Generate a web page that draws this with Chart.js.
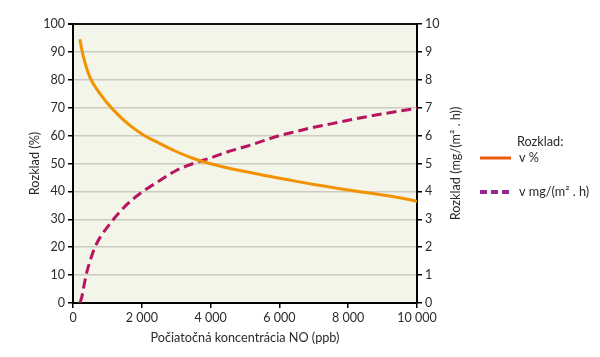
<!DOCTYPE html>
<html>
<head>
<meta charset="utf-8">
<script src="https://cdn.jsdelivr.net/npm/chart.js@4/dist/chart.umd.min.js"></script>
<style>
  html, body { margin: 0; padding: 0; background: #ffffff; }
  #wrap { width: 600px; height: 357px; position: relative; }
</style>
</head>
<body>
<div id="wrap"><canvas id="c" width="600" height="357"></canvas></div>
<script>
// ---- data ----
const concentration = [200, 250, 300, 400, 500, 600, 700, 800, 1000, 1300, 1600, 2000, 2500, 3000, 3500, 4000, 4500, 5000, 5500, 6000, 6500, 7000, 7500, 8000, 8500, 9000, 9500, 10000];
const rozkladPct    = [94.5, 91.2, 88.4, 84, 80.7, 78.4, 76.5, 74.8, 71.6, 67.6, 64.2, 60.6, 57.3, 54.3, 51.8, 49.9, 48.4, 47.1, 45.9, 44.7, 43.6, 42.5, 41.5, 40.5, 39.6, 38.7, 37.7, 36.5];
const rozkladMg     = [0, 0.18, 0.5, 1.1, 1.52, 1.88, 2.16, 2.38, 2.72, 3.18, 3.57, 3.97, 4.37, 4.75, 5.0, 5.2, 5.42, 5.6, 5.8, 6.0, 6.15, 6.3, 6.42, 6.55, 6.67, 6.78, 6.88, 6.98];
const xTickLabels   = ['0', '2 000', '4 000', '6 000', '8 000', '10 000'];
const legendTitle   = 'Rozklad:';
const seriesLabels  = ['v %', 'v mg/(m\u00B2 . h)'];
const xTitle = 'Počiatočná koncentrácia NO (ppb)';
const yLeftTitle = 'Rozklad (%)';
const yRightTitle = 'Rozklad (mg/(m\u00B2 . h))';

const FONT = 'Lato, "Noto Sans", sans-serif';
const TXT = '#2b2b2b';
const ORANGE = '#f39200';
const ORANGE_LEG = '#ea5b0c';
const PURPLE = '#b8145f';
const PURPLE_LEG = '#93278f';
const TITLE_SIZE = 12.7;
const TICK_SIZE = 12.5;

const bgPlugin = {
  id: 'bg',
  beforeDraw(chart) {
    const {ctx, chartArea: a} = chart;
    ctx.save();
    ctx.fillStyle = '#f2f5e8';
    ctx.fillRect(a.left, a.top, a.right - a.left, a.bottom - a.top);
    ctx.restore();
  }
};

const textPlugin = {
  id: 'customText',
  afterDraw(chart) {
    const ctx = chart.ctx;
    const s = chart.scales.y1;
    ctx.save();
    ctx.font = TITLE_SIZE + 'px ' + FONT;
    ctx.fillStyle = TXT;
    ctx.textAlign = 'center';
    ctx.textBaseline = 'middle';
    ctx.translate(s.right - 11, (s.top + s.bottom) / 2);
    ctx.rotate(-Math.PI / 2);
    ctx.fillText(yRightTitle, 0, 0);
    ctx.restore();

    ctx.save();
    ctx.font = TITLE_SIZE + 'px ' + FONT;
    ctx.fillStyle = TXT;
    ctx.textBaseline = 'middle';
    ctx.textAlign = 'left';
    ctx.fillText(legendTitle, 517, 142);
    ctx.strokeStyle = ORANGE_LEG;
    ctx.lineWidth = 3;
    ctx.beginPath(); ctx.moveTo(480, 158); ctx.lineTo(511, 158); ctx.stroke();
    ctx.fillText(chart.data.datasets[0].label, 519, 158);
    ctx.strokeStyle = PURPLE_LEG;
    ctx.lineWidth = 4;
    ctx.setLineDash([7, 4]);
    ctx.beginPath(); ctx.moveTo(480, 192); ctx.lineTo(511, 192); ctx.stroke();
    ctx.setLineDash([]);
    ctx.fillText(chart.data.datasets[1].label, 519, 192);
    ctx.restore();
  }
};

new Chart(document.getElementById('c'), {
  type: 'line',
  data: {
    datasets: [
      {
        label: seriesLabels[0],
        data: concentration.map((x, i) => ({x, y: rozkladPct[i]})),
        borderColor: ORANGE,
        borderWidth: 3,
        pointRadius: 0,
        cubicInterpolationMode: 'monotone',
        yAxisID: 'y'
      },
      {
        label: seriesLabels[1],
        data: concentration.map((x, i) => ({x, y: rozkladMg[i]})),
        borderColor: PURPLE,
        borderWidth: 3,
        borderDash: [10, 5],
        pointRadius: 0,
        cubicInterpolationMode: 'monotone',
        yAxisID: 'y1'
      }
    ]
  },
  options: {
    responsive: false,
    animation: false,
    layout: { padding: { left: 23, right: 133, top: 24, bottom: 7 } },
    plugins: { legend: { display: false }, tooltip: { enabled: false } },
    scales: {
      x: {
        type: 'linear',
        min: 0, max: 10000,
        afterFit(s) { s.height = 47; },
        afterBuildTicks(s) { s.ticks = xTickLabels.map((_, i) => ({value: i * 2000})); },
        ticks: {
          callback: (v, i) => xTickLabels[i],
          color: TXT, font: { family: FONT, size: TICK_SIZE }, padding: 2, maxRotation: 0
        },
        grid: { drawOnChartArea: false, drawTicks: true, tickLength: 5, color: '#000', lineWidth: 1.5 },
        border: { color: '#000', width: 2 },
        title: { display: true, text: xTitle, color: TXT, font: { family: FONT, size: TITLE_SIZE }, padding: { top: 4, bottom: 4 } }
      },
      y: {
        position: 'left',
        min: 0, max: 100,
        afterFit(s) { s.width = 50; },
        ticks: { stepSize: 10, color: TXT, font: { family: FONT, size: TICK_SIZE }, padding: 3 },
        grid: {
          color: (c) => c.tick && c.tick.value === 100 ? '#111' : '#cbcbc2',
          lineWidth: (c) => c.tick && c.tick.value === 100 ? 2 : 1.5,
          tickColor: '#000', tickLength: 5, drawTicks: true
        },
        border: { color: '#000', width: 2 },
        title: { display: true, text: yLeftTitle, color: TXT, font: { family: FONT, size: TITLE_SIZE }, padding: { top: 4, bottom: 4 } }
      },
      y1: {
        position: 'right',
        min: 0, max: 10,
        afterFit(s) { s.width = 50; },
        ticks: { stepSize: 1, color: TXT, font: { family: FONT, size: TICK_SIZE }, padding: 3 },
        grid: { drawOnChartArea: false, tickColor: '#000', tickLength: 5, color: '#000', lineWidth: 1.5 },
        border: { color: '#000', width: 2 },
        title: { display: false }
      }
    }
  },
  plugins: [bgPlugin, textPlugin]
});
</script>
</body>
</html>
